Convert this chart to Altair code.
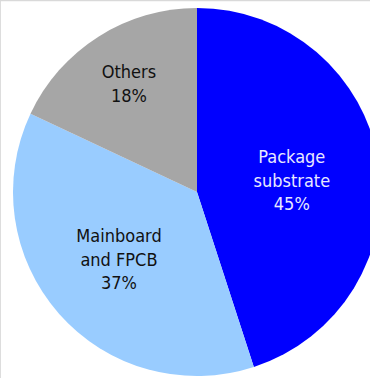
import altair as alt
import pandas as pd

categories = ["Package substrate", "Mainboard and FPCB", "Others"]
shares = [45, 37, 18]
label_lines = [["Package", "substrate", "45%"], ["Mainboard", "and FPCB", "37%"], ["Others", "18%"]]
colors = ["#0000FF", "#99CCFF", "#A6A6A6"]
text_colors = ["#E8E8FF", "#111111", "#111111"]
label_radius = [96, 104, 127]
label_dy = [-18.5, -23.5, -11.5]

df = pd.DataFrame({
    "category": categories,
    "share": shares,
    "label": ["\n".join(l) for l in label_lines],
    "order": [0, 1, 2],
})

CX, CY, R = 197, 192, 184
FONT = "'DejaVu Sans Condensed', 'Liberation Sans Narrow', 'Open Sans', sans-serif"

base = alt.Chart(df).encode(
    theta=alt.Theta("share:Q", stack=True),
    order=alt.Order("order:Q"),
)

pie = base.mark_arc(stroke=None).encode(
    color=alt.Color("category:N", scale=alt.Scale(domain=categories, range=colors), legend=None),
    x=alt.value(CX), y=alt.value(CY),
    radius=alt.value(R),
)

layers = [pie]
for cat, tc, rr, dy in zip(categories, text_colors, label_radius, label_dy):
    t = base.mark_text(
        font=FONT, fontSize=18, lineBreak="\n", lineHeight=23.5,
        align="center", baseline="middle", color=tc, dy=dy,
    ).encode(
        text="label:N",
        x=alt.value(CX), y=alt.value(CY),
        radius=alt.value(rr),
        opacity=alt.condition(alt.datum.category == cat, alt.value(1), alt.value(0)),
    )
    layers.append(t)

topline = alt.Chart(pd.DataFrame({"a": [0]})).mark_rule(color="#D9D9D9", strokeWidth=1.5).encode(
    x=alt.value(0), x2=alt.value(370), y=alt.value(0.5)
)
layers.append(topline)

chart = alt.layer(*layers).properties(
    width=370, height=378, padding=0, autosize=alt.AutoSizeParams(type="none")
).configure_view(stroke=None).configure(background="white")

chart.save("out.html", embed_options={"renderer": "svg", "actions": False})
